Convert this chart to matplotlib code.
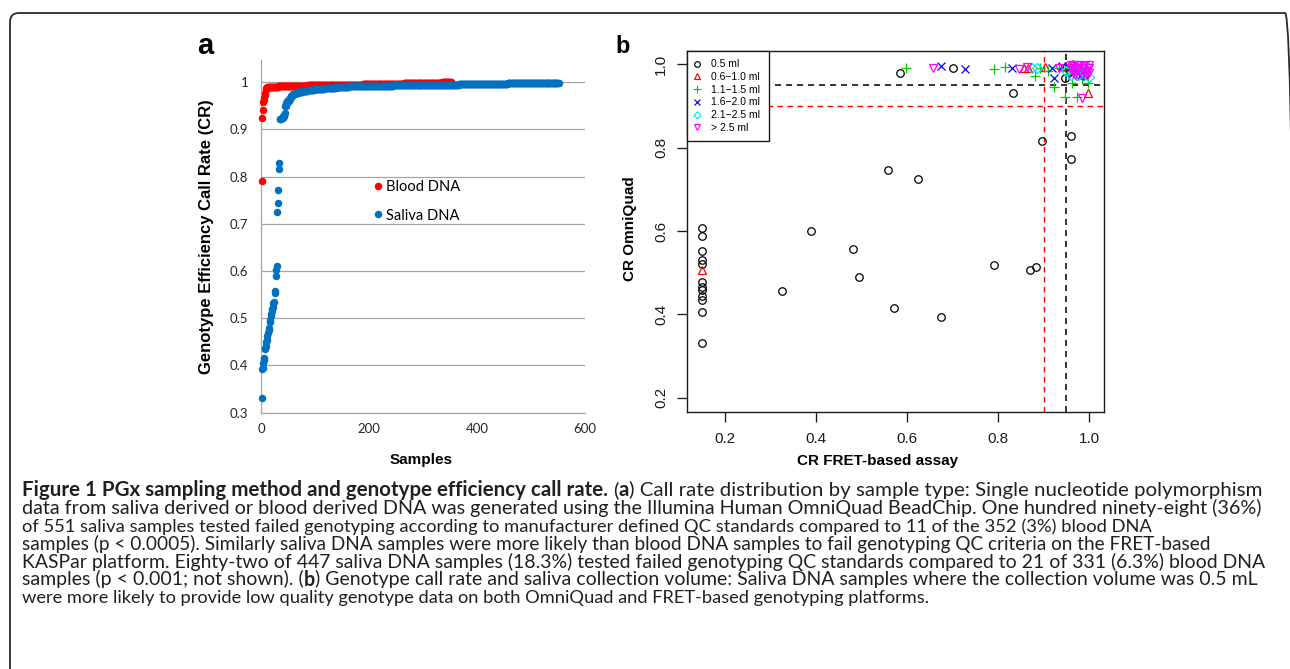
import matplotlib
matplotlib.use("Agg")
import matplotlib.pyplot as plt
import numpy as np
from matplotlib.patches import FancyBboxPatch
from matplotlib.transforms import IdentityTransform
from matplotlib.lines import Line2D

W, H = 1290, 669

# ---------------- panel a data (call-rate levels and number of samples at each level) ----
blood_cr_levels = [0.790, 0.925, 0.942, 0.958, 0.962, 0.967, 0.972, 0.978, 0.984, 0.988,
                   0.990, 0.991, 0.992, 0.993, 0.994, 0.995, 0.996, 0.997, 0.998, 0.999, 1.000]
blood_cr_counts = [1, 1, 1, 1, 1, 1, 1, 1, 1, 2,
                   20, 25, 30, 32, 34, 36, 38, 38, 36, 34, 18]

saliva_cr_levels = [0.332, 0.392, 0.395, 0.405, 0.412, 0.415, 0.435, 0.438, 0.442, 0.450,
                    0.455, 0.462, 0.468, 0.475, 0.480, 0.492, 0.497, 0.505, 0.510, 0.515,
                    0.520, 0.523, 0.533, 0.535, 0.553, 0.558, 0.590, 0.603, 0.610, 0.725,
                    0.745, 0.772, 0.817, 0.828,
                    0.921, 0.924, 0.928, 0.935, 0.950, 0.955, 0.960, 0.965, 0.970, 0.974,
                    0.977, 0.980, 0.982, 0.984, 0.986, 0.988, 0.990, 0.991, 0.992, 0.993,
                    0.994, 0.995, 0.996, 0.997, 0.998, 0.999]
saliva_cr_counts = [1, 1, 1, 1, 1, 1, 1, 1, 1, 1,
                    1, 1, 1, 1, 1, 1, 1, 1, 1, 1,
                    1, 1, 1, 1, 1, 1, 1, 1, 1, 1,
                    1, 1, 1, 1,
                    3, 3, 3, 1, 2, 2, 3, 3, 4, 5,
                    5, 8, 10, 12, 18, 22, 24, 40, 42, 40,
                    42, 40, 42, 48, 50, 45]

a_series = ["Blood DNA", "Saliva DNA"]
a_yticks = [0.3, 0.4, 0.5, 0.6, 0.7, 0.8, 0.9, 1.0]
a_yticklabels = ["0.3", "0.4", "0.5", "0.6", "0.7", "0.8", "0.9", "1"]
a_xticks = [0, 200, 400, 600]

# ---------------- panel b data ----------------
vol_labels = ["0.5 ml", "0.6\u22121.0 ml", "1.1\u22121.5 ml", "1.6\u22122.0 ml",
              "2.1\u22122.5 ml", "> 2.5 ml"]

v05_x = [0.15, 0.15, 0.15, 0.15, 0.15, 0.15, 0.15, 0.15, 0.15, 0.15, 0.15, 0.15,
         0.325, 0.390, 0.481, 0.494, 0.559, 0.571, 0.624, 0.675, 0.792, 0.870, 0.883,
         0.960, 0.897, 0.960, 0.832, 0.585, 0.702, 0.947, 0.958, 0.972, 0.990]
v05_y = [0.608, 0.588, 0.552, 0.530, 0.520, 0.478, 0.466, 0.458, 0.445, 0.434, 0.405, 0.330,
         0.456, 0.601, 0.556, 0.490, 0.746, 0.414, 0.724, 0.393, 0.519, 0.506, 0.514,
         0.772, 0.817, 0.829, 0.930, 0.980, 0.990, 0.968, 0.985, 0.990, 0.975]

v06_x = [0.15, 0.867, 0.903, 0.947, 0.998, 0.975, 0.990, 0.962, 0.985, 0.858]
v06_y = [0.506, 0.991, 0.993, 0.995, 0.930, 0.990, 0.985, 1.000, 0.998, 0.990]

v11_x = [0.598, 0.792, 0.815, 0.881, 0.893, 0.923, 0.935, 0.947, 0.962, 0.973, 0.998,
         0.985, 0.950, 0.970, 0.990, 0.910, 0.955]
v11_y = [0.990, 0.988, 0.994, 0.973, 0.990, 0.946, 0.992, 0.922, 0.954, 0.922, 0.954,
         0.965, 0.985, 0.980, 0.975, 0.985, 0.975]

v16_x = [0.674, 0.727, 0.830, 0.918, 0.923, 0.940, 0.965, 0.990, 0.980, 0.955]
v16_y = [0.997, 0.989, 0.991, 0.990, 0.966, 0.995, 0.980, 0.985, 0.972, 0.990]

v21_x = [0.875, 0.885, 0.950, 0.960, 0.970, 0.980, 0.990, 0.995, 1.000, 0.965, 0.975, 0.985]
v21_y = [0.990, 0.991, 0.985, 0.975, 0.990, 0.995, 0.980, 0.995, 0.970, 0.998, 0.975, 0.985]

v25_x = [0.658, 0.846, 0.863, 0.933, 0.984, 0.960, 0.965, 0.970, 0.975, 0.980, 0.985, 0.990,
         0.995, 1.000, 0.965, 0.975, 0.990, 1.000, 0.970, 0.995, 0.980, 0.960, 0.985, 1.000]
v25_y = [0.990, 0.988, 0.993, 0.991, 0.918, 0.990, 0.995, 0.985, 0.990, 0.998, 0.990, 0.995,
         0.985, 0.990, 0.980, 0.998, 0.978, 0.998, 0.975, 0.975, 0.985, 0.998, 0.975, 0.980]

b_xticks = [0.2, 0.4, 0.6, 0.8, 1.0]
b_yticks = [0.2, 0.4, 0.6, 0.8, 1.0]
fret_cutoffs = [0.90, 0.95]
omni_cutoffs = [0.90, 0.95]

# ---------------- caption text ----------------
caption_lines = [
    [("Figure 1 PGx sampling method and genotype efficiency call rate.", "bold", False),
     ("(", "normal", True), ("a", "bold", False),
     (") Call rate distribution by sample type: Single nucleotide polymorphism", "normal", False)],
    [("data from saliva derived or blood derived DNA was generated using the Illumina Human OmniQuad BeadChip. One hundred ninety-eight (36%)", "normal", False)],
    [("of 551 saliva samples tested failed genotyping according to manufacturer defined QC standards compared to 11 of the 352 (3%) blood DNA", "normal", False)],
    [("samples (p < 0.0005). Similarly saliva DNA samples were more likely than blood DNA samples to fail genotyping QC criteria on the FRET-based", "normal", False)],
    [("KASPar platform. Eighty-two of 447 saliva DNA samples (18.3%) tested failed genotyping QC standards compared to 21 of 331 (6.3%) blood DNA", "normal", False)],
    [("samples (p < 0.001; not shown). (", "normal", False), ("b", "bold", False),
     (") Genotype call rate and saliva collection volume: Saliva DNA samples where the collection volume was 0.5 mL", "normal", False)],
    [("were more likely to provide low quality genotype data on both OmniQuad and FRET-based genotyping platforms.", "normal", False)],
]
caption_right_px = [1256, 1256, 1144, 1207, 1256, 1256, 929]

# ======================================================================
fig = plt.figure(figsize=(W / 100, H / 100), dpi=100)
fig.patch.set_facecolor("white")
SANS = ["Liberation Sans", "DejaVu Sans"]
CAL = ["Lato", "DejaVu Sans"]


def px_axes(left, top, right, bottom):
    return fig.add_axes([left / W, 1 - bottom / H, (right - left) / W, (bottom - top) / H])


# ---------------- panel a ----------------
axa = px_axes(261, 60, 585, 412.7)
blood = np.repeat(blood_cr_levels, blood_cr_counts)
saliva = np.repeat(saliva_cr_levels, saliva_cr_counts)
axa.plot(np.arange(1, len(blood) + 1), blood, "o", color="#ff0000", ms=5.4, mec="none",
         label=a_series[0], zorder=3, clip_on=False)
axa.plot(np.arange(1, len(saliva) + 1), saliva, "o", color="#0070c0", ms=5.4, mec="none",
         label=a_series[1], zorder=4, clip_on=False)
axa.set_xlim(0, 600)
axa.set_ylim(0.3, 1.047)
axa.set_yticks(a_yticks, a_yticklabels)
axa.set_xticks(a_xticks)
axa.grid(axis="y", color="#a6a6a6", lw=0.9)
axa.set_axisbelow(True)
for s in ["top", "right"]:
    axa.spines[s].set_visible(False)
for s in ["left", "bottom"]:
    axa.spines[s].set_color("#a6a6a6")
    axa.spines[s].set_linewidth(0.9)
axa.tick_params(axis="both", length=0, labelsize=9.5, labelcolor="#262626")
axa.tick_params(axis="x", pad=7.5)
axa.tick_params(axis="y", pad=9)
for lbl in axa.get_xticklabels() + axa.get_yticklabels():
    lbl.set_family(CAL)
axa.set_xlabel("Samples", fontsize=11, fontweight="bold", family=SANS, va="center")
axa.xaxis.set_label_coords(0.4955, -0.134)
axa.set_ylabel("Genotype Efficiency Call Rate (CR)", fontsize=12, fontweight="bold",
               family=SANS, va="center", ha="center")
axa.yaxis.set_label_coords(-0.1676, 0.5)
lega = axa.legend(loc="center left", bbox_to_anchor=(0.3423, 0.599), frameon=False,
                  prop={"family": CAL, "size": 10.5}, borderpad=0, borderaxespad=0,
                  handlelength=0.8, handletextpad=0.2, labelspacing=0.97, markerscale=1.0)
fig.text(197 / W, 1 - 54.3 / H, "a", fontsize=21, fontweight="bold", family=SANS,
         va="baseline", ha="left")

# ---------------- panel b ----------------
axb = px_axes(687.3, 51, 1104.3, 411.7)
groups = [(v05_x, v05_y), (v06_x, v06_y), (v11_x, v11_y), (v16_x, v16_y),
          (v21_x, v21_y), (v25_x, v25_y)]
markers = ["o", "^", "+", "x", "D", "v"]
colors = ["black", "#ff0000", "#00cd00", "#0000ff", "#00e5ee", "#ff00ff"]
msizes = [5.4, 6.0, 7.5, 5.6, 4.8, 6.0]
handles = []
for (gx, gy), m, c, ms, lab in zip(groups, markers, colors, msizes, vol_labels):
    axb.plot(gx, gy, ls="none", marker=m, mfc="none", mec=c, ms=ms, mew=0.9, zorder=3)
    handles.append(Line2D([], [], ls="none", marker=m, mfc="none", mec=c,
                          ms=ms * 0.75, mew=0.85, label=lab))
dash = (0, (4, 3.2))
axb.axvline(fret_cutoffs[0], color="#ff0000", ls=dash, lw=1.0, zorder=2)
axb.axvline(fret_cutoffs[1], color="black", ls=dash, lw=1.1, zorder=2)
axb.axhline(omni_cutoffs[0], color="#ff0000", ls=dash, lw=1.0, zorder=2)
axb.axhline(omni_cutoffs[1], color="black", ls=dash, lw=1.1, zorder=2)
axb.set_xlim(0.1171, 1.0336)
axb.set_ylim(0.1663, 1.0319)
axb.set_xticks(b_xticks, [f"{v:.1f}" for v in b_xticks])
axb.set_yticks(b_yticks, [f"{v:.1f}" for v in b_yticks])
for s in axb.spines.values():
    s.set_linewidth(1.0)
    s.set_color("#1a1a1a")
axb.tick_params(axis="both", direction="out", length=7.2, width=0.95, labelsize=11,
                labelcolor="#1a1a1a", color="#1a1a1a")
axb.tick_params(axis="x", pad=7.5)
axb.tick_params(axis="y", pad=6.6)
for lbl in axb.get_xticklabels():
    lbl.set_family(SANS)
for lbl in axb.get_yticklabels():
    lbl.set_family(SANS)
    lbl.set_rotation(90)
    lbl.set_va("center")
axb.set_xlabel("CR FRET-based assay", fontsize=11, fontweight="bold", family=SANS, va="center")
axb.xaxis.set_label_coords(0.457, -0.1367)
axb.set_ylabel("CR OmniQuad", fontsize=11, fontweight="bold", family=SANS,
               va="center", ha="center")
axb.yaxis.set_label_coords(-0.1374, 0.5065)
legb = axb.legend(handles=handles, loc="upper left", bbox_to_anchor=(0, 1), borderaxespad=0,
                  frameon=True, fancybox=False, framealpha=1, edgecolor="#1a1a1a",
                  prop={"family": SANS, "size": 7.5}, borderpad=0.8, handlelength=0.2,
                  handletextpad=1.3, labelspacing=0.26)
legb.get_frame().set_linewidth(1.0)
fig.text(615 / W, 1 - 53.3 / H, "b", fontsize=17, fontweight="bold", family=SANS,
         va="baseline", ha="left")

# ---------------- caption ----------------
renderer = fig.canvas.get_renderer()


def line_width(runs, size, space_w):
    x = 0.0
    for txt, weight, gap in runs:
        if gap:
            x += space_w
        t = fig.text(0, 0, txt, fontsize=size, fontweight=weight, family=CAL)
        x += t.get_window_extent(renderer).width
        t.remove()
    return x


def space_width(size):
    t1 = fig.text(0, 0, "x x", fontsize=size, family=CAL)
    t2 = fig.text(0, 0, "xx", fontsize=size, family=CAL)
    w = t1.get_window_extent(renderer).width - t2.get_window_extent(renderer).width
    t1.remove()
    t2.remove()
    return w


base = 12.0
for i, runs in enumerate(caption_lines):
    sw = space_width(base)
    wnat = line_width(runs, base, sw)
    size = base * (caption_right_px[i] - 22) / wnat
    sw = space_width(size)
    x = 22.0
    y = 496.0 + 17.9 * i
    for txt, weight, gap in runs:
        if gap:
            x += sw
        t = fig.text(x / W, 1 - y / H, txt, fontsize=size, fontweight=weight,
                     family=CAL, va="baseline", ha="left", color="#231f20")
        x += t.get_window_extent(renderer).width

# ---------------- rounded border ----------------
border = FancyBboxPatch((10, -30), 1284, H - 13 + 30,
                        boxstyle="round,pad=0,rounding_size=9",
                        transform=IdentityTransform(), fill=False,
                        ec="#2a2a2a", lw=1.3)
fig.add_artist(border)

fig.savefig("out.png", dpi=100, facecolor="white")
